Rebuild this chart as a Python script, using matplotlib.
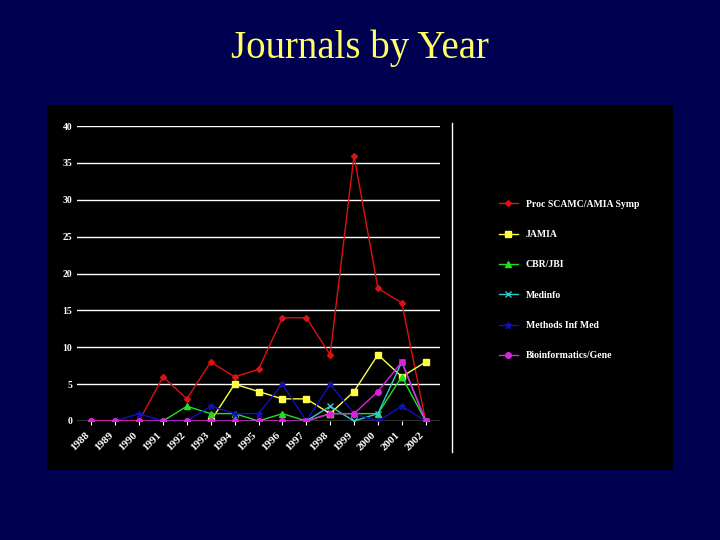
import matplotlib
matplotlib.use("Agg")
import matplotlib.pyplot as plt
import numpy as np

years = ["1988","1989","1990","1991","1992","1993","1994","1995","1996","1997","1998","1999","2000","2001","2002"]
nan = np.nan
proc = [0,0,0,6,3,8,6,7,14,14,9,36,18,16,0]
jamia = [nan,nan,nan,nan,nan,0,5,4,3,3,1,4,9,6,8]
cbr = [nan,nan,nan,0,2,1,1,0,1,0,1,1,1,6,0]
medinfo = [nan,nan,nan,nan,nan,nan,nan,nan,nan,0,2,0,1,8,0]
methods = [nan,0,1,0,0,2,1,1,5,0,5,1,0,2,0]
bioinf = [0,0,0,0,0,0,0,0,0,0,1,1,4,8,0]

fig = plt.figure(figsize=(7.2,5.4), dpi=100)
fig.patch.set_facecolor("#000050")
fig.text(0.5, 0.91, "Journals by Year", ha="center", va="center", color="#ffff66",
         family="Liberation Serif", fontsize=28)
panel = fig.add_axes([47/720, 1-470/540, 626/720, 365/540])
panel.set_facecolor("black"); panel.set_xticks([]); panel.set_yticks([])
for s in panel.spines.values(): s.set_visible(False)
panel.axvline(405/626, ymin=0.05, ymax=0.95, color="white", lw=1)

ax = fig.add_axes([77/720, 1-421/540, 363/720, 295/540])
ax.set_facecolor("black")
x = np.arange(len(years))
series = [("Proc SCAMC/AMIA Symp", proc, "#dd1111", "D", 3, True),
          ("JAMIA", jamia, "#ffff44", "s", 4, True),
          ("CBR/JBI", cbr, "#22dd22", "^", 4, True),
          ("Medinfo", medinfo, "#33cccc", "x", 5, True),
          ("Methods Inf Med", methods, "#1111bb", "*", 5, True),
          ("Bioinformatics/Gene", bioinf, "#dd22dd", "o", 4, True)]
handles = []
for name, v, c, m, ms, _ in series:
    h, = ax.plot(x, v, color=c, marker=m, ms=ms, lw=1, label=name)
    handles.append(h)
ax.set_ylim(0, 40); ax.set_xlim(-0.6, 14.6)
ax.set_yticks(range(0, 41, 5))
ax.yaxis.grid(True, color="white", lw=1)
ax.set_axisbelow(True)
ax.tick_params(axis="y", colors="white", labelsize=7, length=0)
ax.set_yticklabels([str(i) for i in range(0,41,5)], family="Liberation Serif", fontweight="bold")
ax.set_xticks(x - 0.5, minor=False)
ax.set_xticks(x)
ax.set_xticklabels(years, rotation=45, ha="right", color="white", fontsize=8,
                   family="Liberation Serif", fontweight="bold")
ax.tick_params(axis="x", colors="white", length=3)
for s in ax.spines.values(): s.set_visible(False)
leg = fig.legend(handles=handles, loc="center left", bbox_to_anchor=(490/720, 1-280/540),
                 frameon=False, labelspacing=2.2, fontsize=7,
                 prop={"family":"Liberation Serif","weight":"bold","size":7})
for t in leg.get_texts(): t.set_color("white")
fig.savefig("out.png", dpi=100, facecolor=fig.get_facecolor())
